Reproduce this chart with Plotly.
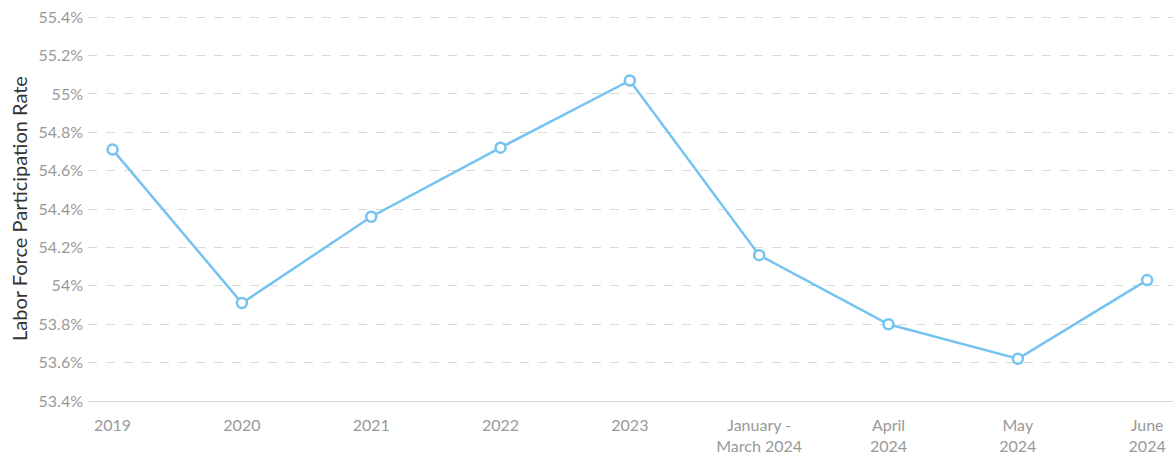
import plotly.graph_objects as go

periods = ["2019", "2020", "2021", "2022", "2023", "January -<br>March 2024",
           "April<br>2024", "May<br>2024", "June<br>2024"]
participation_rate = [54.71, 53.91, 54.36, 54.72, 55.07, 54.16, 53.80, 53.62, 54.03]

y_ticks = [53.4, 53.6, 53.8, 54.0, 54.2, 54.4, 54.6, 54.8, 55.0, 55.2, 55.4]
y_tick_labels = ["53.4%", "53.6%", "53.8%", "54%", "54.2%", "54.4%", "54.6%",
                 "54.8%", "55%", "55.2%", "55.4%"]

line_color = "#74c3f0"

fig = go.Figure(
    go.Scatter(
        x=list(range(len(periods))),
        y=participation_rate,
        mode="lines+markers",
        line=dict(color=line_color, width=2.5),
        marker=dict(size=10, color="white", line=dict(color=line_color, width=2.5)),
        hoverinfo="skip",
        cliponaxis=False,
    )
)

fig.update_layout(
    width=1173,
    height=457,
    margin=dict(l=88, r=0, t=16, b=56),
    paper_bgcolor="white",
    plot_bgcolor="white",
    font=dict(family="Lato, sans-serif", size=16, color="#999999"),
    showlegend=False,
)

fig.update_xaxes(
    tickmode="array",
    tickvals=list(range(len(periods))),
    ticktext=periods,
    range=[-0.19, 8.2],
    showgrid=False,
    showline=True,
    linecolor="#d6d6d6",
    linewidth=1,
    ticks="",
    ticklabelstandoff=10,
    tickfont=dict(size=16, color="#999999"),
    zeroline=False,
)

# a hair of headroom so the 55.4% gridline is drawn along the top edge
fig.update_yaxes(
    tickmode="array",
    tickvals=y_ticks,
    ticktext=y_tick_labels,
    range=[53.4, 55.406],
    showgrid=True,
    gridcolor="#d9d9d9",
    griddash="dash",
    gridwidth=1,
    zeroline=False,
    showline=False,
    ticks="",
    ticklabelstandoff=4,
    tickfont=dict(size=16, color="#999999"),
    title=dict(text="Labor Force Participation Rate",
               font=dict(size=20, color="#333333"), standoff=5),
)

fig.write_html("out.html")
